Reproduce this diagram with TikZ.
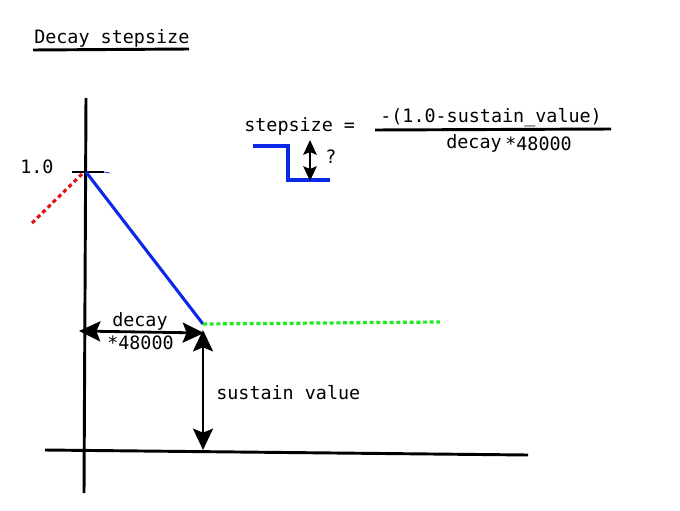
\documentclass[tikz,border=0pt]{standalone}
\usepackage{fontspec}
\setmainfont{DejaVu Sans Mono}
\usetikzlibrary{arrows.meta}
\definecolor{decayblue}{RGB}{10,40,230}
\definecolor{attackred}{RGB}{225,20,20}
\definecolor{sustaingreen}{RGB}{30,235,30}

\begin{document}
\begin{tikzpicture}[x=0.75pt,y=-0.75pt]
    \tikzstyle{txt} = [inner sep=0pt, anchor=base west, font=\fontsize{13.8}{16}\selectfont]
    \tikzstyle{axis} = [line width=2.2pt, black]
    \tikzstyle{curve} = [line width=2.3pt, decayblue]
    \tikzstyle{dimarrow} = [line width=2.1pt, {Stealth[length=16pt,width=15pt,inset=3pt]}-{Stealth[length=16pt,width=15pt,inset=3pt]}]
    \tikzstyle{smallarrow} = [line width=1.9pt, {Stealth[length=11pt,width=10pt,inset=2pt]}-{Stealth[length=11pt,width=10pt,inset=2pt]}]
    \useasboundingbox (0,0) rectangle (680,510);

    % title
    \node (title) [txt] at (34,44) {Decay stepsize};
    \coordinate (ulL) at (33,50);
    \coordinate (ulR) at (189,49);
    \draw [axis] (ulL) -- (ulR);

    % axes
    \coordinate (ytop) at (86,98);
    \coordinate (ybot) at (84,493);
    \coordinate (xleft) at (45,450);
    \coordinate (xright) at (528,455);
    \draw [axis] (ytop) -- (ybot);
    \draw [axis] (xleft) -- (xright);

    % level 1.0
    \coordinate (peak) at (86,172);
    \coordinate (tickl) at (72,172);
    \coordinate (tickr) at (104,172);
    \coordinate (tickend) at (110,173);
    \node (one) [txt] at (20,173) {1.0};
    \draw [axis] (tickl) -- (tickr);
    \draw [decayblue, line width=0.6pt] (tickr) -- (tickend);

    % envelope
    \coordinate (attack) at (32,223);
    \coordinate (knee) at (203,324);
    \coordinate (sustend) at (440,322);
    \draw [attackred, line width=2.4pt, dash pattern=on 3pt off 2.5pt] (attack) -- (82,174);
    \draw [curve] (peak) -- (knee);
    \draw [sustaingreen, line width=2.4pt, dash pattern=on 3pt off 2pt] (knee) -- (sustend);

    % decay time
    \coordinate (dimL) at (79,331);
    \coordinate (dimR) at (204,333);
    \draw [dimarrow] (dimL) -- (dimR);
    \node (dlabel) [txt] at (112,326) {decay};
    \node (dlabelb) [txt] at (107,349) {*48000};

    % sustain value
    \coordinate (dimT) at (203,330);
    \coordinate (dimB) at (203,450);
    \draw [dimarrow] (dimT) -- (dimB);
    \node (slabel) [txt] at (216,399) {sustain value};

    % formula
    \node (lhs) [txt] at (244,131) {stepsize =};
    \node (num) [txt] at (380,122) {-(1.0-sustain\_value)};
    \coordinate (barL) at (375,130);
    \coordinate (barR) at (611,129);
    \draw [axis] (barL) -- (barR);
    \node (den) [txt] at (446,148) {decay};
    \node (denb) [txt] at (505,150) {*48000};

    % one step
    \coordinate (s1) at (253,146);
    \coordinate (s2) at (288,146);
    \coordinate (s3) at (288,180);
    \coordinate (s4) at (330,180);
    \draw [curve] (s1) -- (s2) -- (s3) -- (s4);
    \coordinate (qT) at (310,140);
    \coordinate (qB) at (310,181);
    \draw [smallarrow] (qT) -- (qB);
    \node (q) [txt] at (325,163) {?};
\end{tikzpicture}
\end{document}
